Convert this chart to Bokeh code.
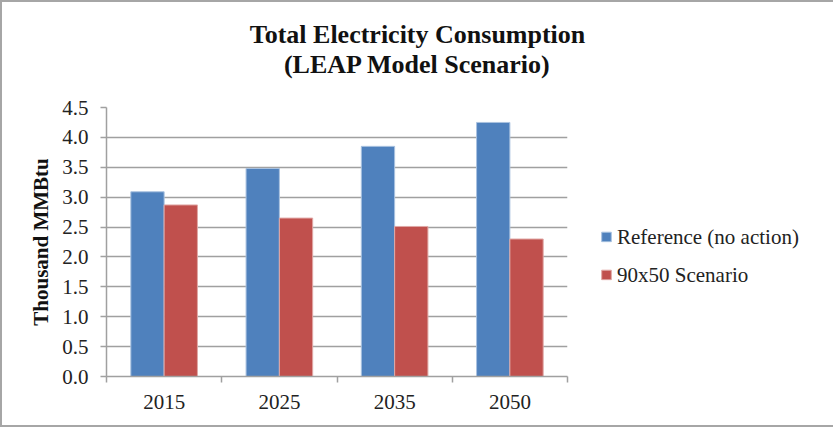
from bokeh.plotting import figure
from bokeh.models import (ColumnDataSource, FixedTicker, Label, Legend, LegendItem,
                          NumeralTickFormatter, Range1d)
from bokeh.embed import file_html
from bokeh.resources import INLINE

years = ["2015", "2025", "2035", "2050"]
reference = [3.09, 3.48, 3.85, 4.25]
scenario = [2.87, 2.65, 2.51, 2.30]
series_names = ["Reference (no action)", "90x50 Scenario"]
y_ticks = [0.0, 0.5, 1.0, 1.5, 2.0, 2.5, 3.0, 3.5, 4.0, 4.5]
title_lines = ["Total Electricity Consumption", "(LEAP Model Scenario)"]

BAR_W = 0.289
centers = [i + 0.5 for i in range(len(years))]
src = ColumnDataSource(dict(
    xr=[c - BAR_W / 2 for c in centers],
    xs=[c + BAR_W / 2 for c in centers],
    ref=reference, scen=scenario))

FONT = "Liberation Serif"
GRAY = "#a0a0a0"

p = figure(frame_width=461, frame_height=269, output_backend="svg", toolbar_location=None,
           x_range=Range1d(0, len(years)), y_range=Range1d(0, 4.5),
           min_border_left=104, min_border_top=105, min_border_bottom=49, min_border_right=263,
           styles={"border": "2px solid #a6a6a6"})
p.outline_line_color = None
p.background_fill_color = "white"
p.border_fill_color = "white"

b1 = p.vbar(x="xr", top="ref", width=BAR_W, bottom=0, source=src,
            fill_color="#4f81bd", line_color="#a9c2e0", line_width=1)
b2 = p.vbar(x="xs", top="scen", width=BAR_W, bottom=0, source=src,
            fill_color="#c0504d", line_color="#e0a8a6", line_width=1)

# x axis: labels at category centres, ticks at category boundaries
xt = FixedTicker(ticks=centers, minor_ticks=list(range(len(years) + 1)))
p.xaxis.ticker = xt
p.xaxis.major_label_overrides = {c: y for c, y in zip(centers, years)}
p.xaxis.major_tick_line_color = None
p.xaxis.minor_tick_line_color = GRAY
p.xaxis.minor_tick_line_width = 1.5
p.xaxis.minor_tick_out = 6
p.xaxis.minor_tick_in = 0
p.xaxis.axis_line_color = GRAY
p.xaxis.axis_line_width = 1.5
p.xaxis.major_label_text_font = FONT
p.xaxis.major_label_text_font_size = "21px"
p.xaxis.major_label_text_color = "#222222"
p.xaxis.major_label_standoff = 12
p.xgrid.grid_line_color = None

p.yaxis.ticker = FixedTicker(ticks=y_ticks)
p.yaxis.formatter = NumeralTickFormatter(format="0.0")
p.yaxis.major_tick_line_color = GRAY
p.yaxis.major_tick_line_width = 1.5
p.yaxis.major_tick_out = 6
p.yaxis.major_tick_in = 0
p.yaxis.minor_tick_line_color = None
p.yaxis.axis_line_color = GRAY
p.yaxis.axis_line_width = 1.5
p.yaxis.major_label_text_font = FONT
p.yaxis.major_label_text_font_size = "21px"
p.yaxis.major_label_text_color = "#222222"
p.yaxis.major_label_standoff = 12
p.yaxis.axis_label = "Thousand MMBtu"
p.yaxis.axis_label_text_font = FONT
p.yaxis.axis_label_text_font_style = "bold"
p.yaxis.axis_label_text_font_size = "21px"
p.yaxis.axis_label_text_color = "#111111"
p.yaxis.axis_label_standoff = 6
p.ygrid.grid_line_color = GRAY
p.ygrid.grid_line_width = 1.5

p.add_layout(Label(x=311, y=88, x_units="screen", y_units="screen",
                   text="\n".join(title_lines),
                   text_align="center", text_baseline="top", text_line_height=1.04,
                   text_font=FONT, text_font_style="bold", text_font_size="26px",
                   text_color="#111111"), "above")

legend = Legend(items=[LegendItem(label=series_names[0], renderers=[b1]),
                       LegendItem(label=series_names[1], renderers=[b2])],
                location="center_left", orientation="vertical",
                glyph_width=12, glyph_height=12, label_height=20, label_standoff=5,
                spacing=13, padding=0, margin=33,
                label_text_font=FONT, label_text_font_size="21px", label_text_color="#222222",
                title=" ", title_text_font_size="6px", title_standoff=22,
                border_line_color=None, background_fill_alpha=0)
p.add_layout(legend, "right")

open("out.html", "w").write(file_html(p, INLINE))
